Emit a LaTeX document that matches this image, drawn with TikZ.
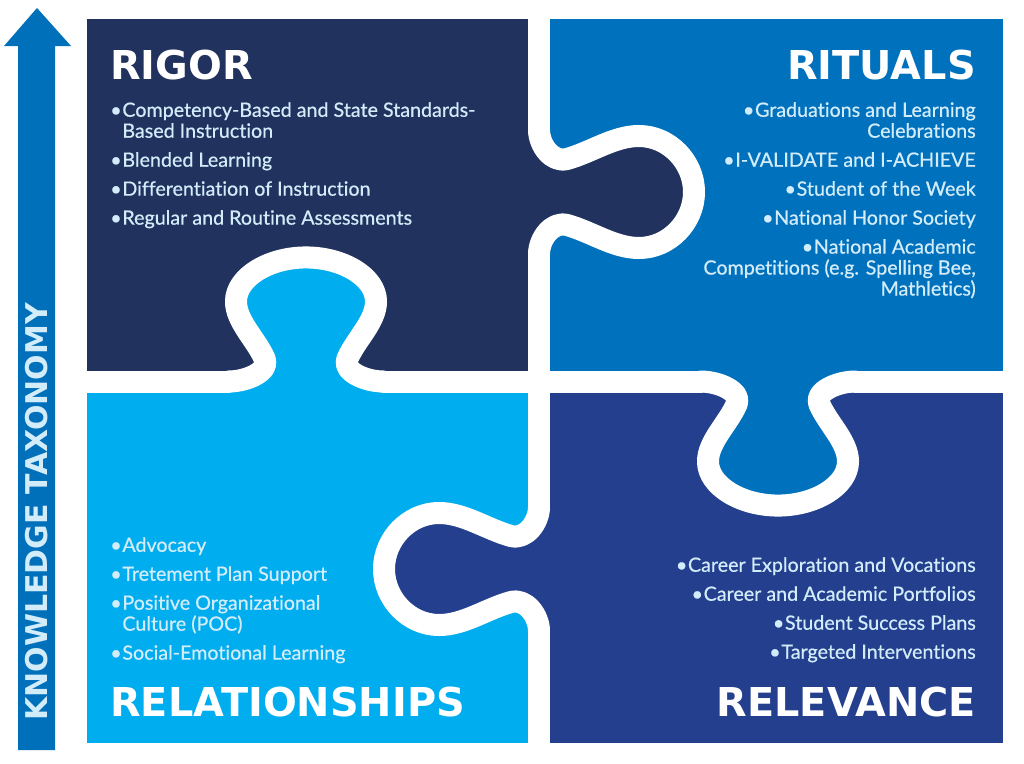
\documentclass[tikz,border=0pt]{standalone}
\usepackage{fontspec}
\setmainfont{Lato}
\newfontfamily\listfont{Lato}[FakeBold=0.6, Ligatures=CommonOff]
\newfontfamily\headfont{DejaVu Sans}
\usetikzlibrary{positioning}

\definecolor{rigorcol}{HTML}{21325E}
\definecolor{ritualcol}{HTML}{0071BC}
\definecolor{relationcol}{HTML}{00ADEE}
\definecolor{relevancecol}{HTML}{233F8E}
\definecolor{arrowcol}{HTML}{0070BA}
\definecolor{listcol}{HTML}{D2ECFA}

\tikzset{
  % White cut between the pieces
  cutline/.style={
    draw=white, line width=0.55cm, line cap=round, line join=round
  },
  % Piece heading
  headtext/.style={
    font=\headfont\bfseries\fontsize{28.3}{30}\selectfont,
    text=white, inner sep=0pt
  },
  % Bullet list
  listtext/.style={
    font=\listfont\fontsize{14}{14.9}\selectfont,
    text=listcol, inner sep=0pt, align=#1
  },
  listtext/.default=left,
}

% one puzzle knob, local coords: u along the edge, v outward
\newcommand{\knobpath}{(-62,0) .. controls (-47,0) and (-29,13) .. (-33,28)
  .. controls (-40,53) and (-56,75) .. (-56,100)
  .. controls (-56,130) and (-30,155) .. (0,155)
  .. controls (30,155) and (56,130) .. (56,100)
  .. controls (56,75) and (40,53) .. (33,28)
  .. controls (29,13) and (47,0) .. (62,0)}
\newcommand{\bul}{•\kern0.5pt}
\newcommand{\hang}{\phantom{•\kern0.5pt}}

\begin{document}
\begin{tikzpicture}[x=0.025cm, y=-0.025cm]

\fill[white] (0,0) rectangle (1024,763);
\useasboundingbox (0,0) rectangle (1024,763);

% ── Knowledge taxonomy arrow ──────────────────────────────────────────────────
\fill[arrowcol] (18,750) -- (18,46) -- (4,46) -- (37,8) -- (71,46)
  -- (55,46) -- (55,750) -- cycle;
\node[rotate=90, font=\headfont\bfseries\fontsize{21.3}{22}\selectfont,
      text=listcol, inner sep=0pt]
  (taxonomy) at (37,512) {KNOWLEDGE TAXONOMY};

% ── Four pieces ───────────────────────────────────────────────────────────────
\fill[rigorcol]     (87,19)    rectangle (539,381.5);
\fill[ritualcol]    (539,19)   rectangle (1003,381.5);
\fill[relationcol]  (87,381.5) rectangle (539,743);
\fill[relevancecol] (539,381.5) rectangle (1003,743);

% straight parts of the cuts
\foreach \ya/\yb in {19/130, 254/507, 631/743}{
  \draw[cutline] (539,\ya) -- (539,\yb);
}
\foreach \xa/\xb in {87/228.5, 383.5/700.5, 855.5/1003}{
  \draw[cutline] (\xa,381.5) -- (\xb,381.5);
}

% ── Knobs ─────────────────────────────────────────────────────────────────────
% rigor into rituals
\begin{scope}[shift={(539,192)}, x={(0cm,-0.025cm)}, y={(0.025cm,0cm)}]
  \fill[rigorcol] \knobpath -- (62,-10) -- (-62,-10) -- cycle;
  \draw[cutline] \knobpath;
\end{scope}
% relevance into relationships
\begin{scope}[shift={(539,569)}, x={(0cm,-0.025cm)}, y={(-0.025cm,0cm)}]
  \fill[relevancecol] \knobpath -- (62,-10) -- (-62,-10) -- cycle;
  \draw[cutline] \knobpath;
\end{scope}
% relationships into rigor
\begin{scope}[shift={(306,381.5)}, x={(0.03125cm,0cm)}, y={(0cm,0.02cm)}]
  \fill[relationcol] \knobpath -- (62,-10) -- (-62,-10) -- cycle;
  \draw[cutline] \knobpath;
\end{scope}
% rituals into relevance
\begin{scope}[shift={(778,381.5)}, x={(0.03125cm,0cm)}, y={(0cm,-0.02cm)}]
  \fill[ritualcol] \knobpath -- (62,-10) -- (-62,-10) -- cycle;
  \draw[cutline] \knobpath;
\end{scope}

% ── Headings ──────────────────────────────────────────────────────────────────
\node[headtext, anchor=base west] (rigorhead)     at (110,79)  {RIGOR};
\node[headtext, anchor=base east] (ritualhead)    at (976,79)  {RITUALS};
\node[headtext, anchor=base west] (relationhead)  at (110,716) {RELATIONSHIPS};
\node[headtext, anchor=base east] (relevancehead) at (976,716) {RELEVANCE};

% ── Lists ─────────────────────────────────────────────────────────────────────
\node[listtext=left, anchor=north west] (rigorlist) at (110,102)
  {\bul Competency-Based and State Standards-\\
   \hang Based Instruction\\[5.7pt]
   \bul Blended Learning\\[5.7pt]
   \bul Differentiation of Instruction\\[5.7pt]
   \bul Regular and Routine Assessments};

\node[listtext=right, anchor=north east] (rituallist) at (976,102)
  {\bul Graduations and Learning\\
   Celebrations\\[5.7pt]
   \bul I-VALIDATE and I-ACHIEVE\\[5.7pt]
   \bul Student of the Week\\[5.7pt]
   \bul National Honor Society\\[5.7pt]
   \bul National Academic\\
   Competitions (e.g. Spelling Bee,\\
   Mathletics)};

\node[listtext=left, anchor=north west] (relationlist) at (110,537)
  {\bul Advocacy\\[5.7pt]
   \bul Tretement Plan Support\\[5.7pt]
   \bul Positive Organizational\\
   \hang Culture (POC)\\[5.7pt]
   \bul Social-Emotional Learning};

\node[listtext=right, anchor=north east] (relevancelist) at (976,557)
  {\bul Career Exploration and Vocations\\[5.7pt]
   \bul Career and Academic Portfolios\\[5.7pt]
   \bul Student Success Plans\\[5.7pt]
   \bul Targeted Interventions};

\end{tikzpicture}
\end{document}
